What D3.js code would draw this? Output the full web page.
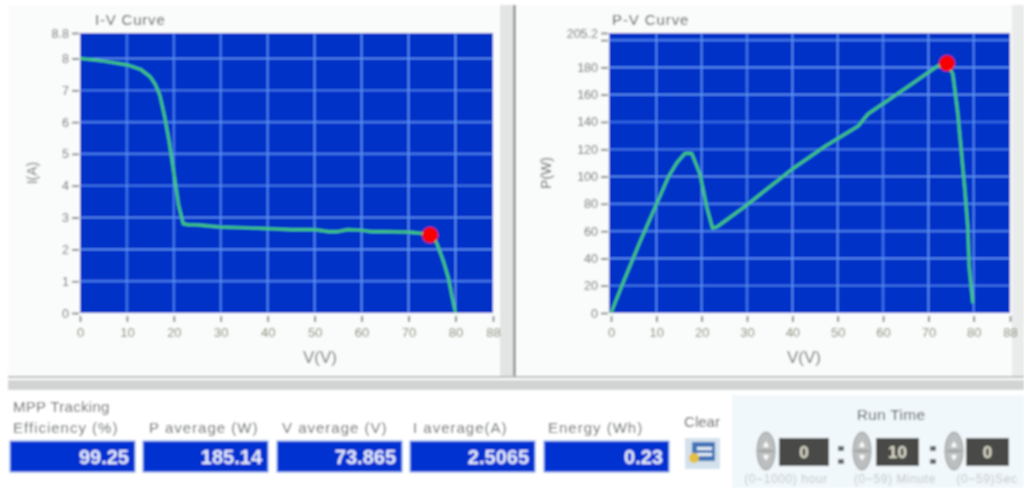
<!DOCTYPE html>
<html>
<head>
<meta charset="utf-8">
<script src="https://cdn.jsdelivr.net/npm/d3@7"></script>
<style>
  html, body { margin: 0; padding: 0; background: #fff; }
  svg { display: block; }
  text { font-family: "Liberation Sans", sans-serif; }
</style>
</head>
<body>
<svg id="chart" width="1024" height="488"></svg>
<script>
// I-V curve
const ivVolts = [0, 5, 10, 13, 15, 16, 17, 18, 19, 20, 21, 22, 23, 25, 30, 35, 40, 45, 50, 53, 55, 57, 60, 62, 65, 70, 74.6, 75.5, 76, 77.5, 78.5, 79.3, 80]
const ivAmps = [8.0, 7.92, 7.8, 7.65, 7.42, 7.2, 6.85, 6.2, 5.4, 4.4, 3.4, 2.8, 2.78, 2.77, 2.7, 2.68, 2.65, 2.62, 2.62, 2.56, 2.56, 2.62, 2.6, 2.56, 2.56, 2.54, 2.48, 2.35, 2.2, 1.6, 1.1, 0.5, 0]
const ivMpp = [74.6, 2.45]
const ivTicks = [0, 1, 2, 3, 4, 5, 6, 7, 8, 8.8]

// P-V curve
const pvVolts = [0, 3, 6.5, 9.8, 12.7, 14.5, 16.3, 17.8, 19.6, 21.1, 22.4, 23.3, 29.5, 39.8, 47.1, 54.5, 56.7, 64.7, 72, 74.1, 75.4, 76.5, 78, 78.7, 79, 79.8]
const pvWatts = [0, 25, 53, 78, 100, 110, 117, 117, 102, 78, 62, 63, 78, 105, 122, 137, 146, 164, 181, 183, 175, 146, 92, 63, 34, 7]
const pvMpp = [74.1, 183]
const pvTicks = [0, 20, 40, 60, 80, 100, 120, 140, 160, 180, 200, 205.2]

const voltTicks = [0, 10, 20, 30, 40, 50, 60, 70, 80, 88]

// readouts
const readoutLabels = ['Efficiency (%)', 'P average  (W)', 'V average (V)', 'I average(A)', 'Energy  (Wh)']
const readoutValues = ['99.25', '185.14', '73.865', '2.5065', '0.23']
const readoutLeft = [10, 143, 277, 410, 544]
const readoutLabelLeft = [13, 149, 282, 413, 548]

// run time
const runValues = ['0', '10', '0']
const runCaptions = ['(0~1000) hour', '(0~59) Minute', '(0~59)Sec']

const svg = d3.select('#chart')
const defs = svg.append('defs')
defs.append('filter').attr('id', 'soft')
  .attr('x', '-2%').attr('y', '-2%').attr('width', '104%').attr('height', '104%')
  .append('feGaussianBlur').attr('stdDeviation', 0.8)

const root = svg.append('g').attr('filter', 'url(#soft)')

root.append('rect').attr('width', 1024).attr('height', 488).attr('fill', '#ffffff')
// panels + splitters
root.append('rect').attr('x', 8).attr('y', 5).attr('width', 492).attr('height', 371).attr('fill', '#fafcfb')
root.append('rect').attr('x', 517).attr('y', 5).attr('width', 495).attr('height', 371).attr('fill', '#fafcfb')
root.append('rect').attr('x', 500).attr('y', 5).attr('width', 13).attr('height', 373).attr('fill', '#e2e5e4')
root.append('rect').attr('x', 513).attr('y', 5).attr('width', 3).attr('height', 373).attr('fill', '#979c9a')
root.append('rect').attr('x', 1012).attr('y', 5).attr('width', 12).attr('height', 373).attr('fill', '#e9ecea')
root.append('rect').attr('x', 8).attr('y', 380).attr('width', 1016).attr('height', 10).attr('fill', '#d2d4d3')
root.append('rect').attr('x', 8).attr('y', 376).attr('width', 1016).attr('height', 2).attr('fill', '#b8bcba')

function drawPlot(opts) {
  const { left, zeroX, right, top, bottom, yMax, yTicks, labeled, volts, vals, mpp } = opts
  const x = d3.scaleLinear().domain([0, 88]).range([zeroX, right])
  const y = d3.scaleLinear().domain([0, yMax]).range([bottom, top])

  root.append('rect').attr('x', left).attr('y', top)
    .attr('width', right - left).attr('height', bottom - top).attr('fill', '#0032c8')

  root.append('g').selectAll('line').data(voltTicks.filter(d => d > 0 && d < 88)).join('line')
    .attr('x1', d => x(d)).attr('x2', d => x(d)).attr('y1', top).attr('y2', bottom)
    .attr('stroke', '#6ba8ff').attr('stroke-width', 1.15)
  root.append('g').selectAll('line').data(yTicks.filter(d => d > 0 && d < yMax)).join('line')
    .attr('x1', left).attr('x2', right).attr('y1', d => y(d)).attr('y2', d => y(d))
    .attr('stroke', '#6ba8ff').attr('stroke-width', 1.15)

  const xAxis = root.append('g').attr('transform', `translate(0,${bottom + 3})`)
    .call(d3.axisBottom(x).tickValues(voltTicks).tickSize(6).tickPadding(6))
  xAxis.select('.domain').remove()
  xAxis.selectAll('line').attr('stroke', '#444').attr('stroke-width', 1.4)
  xAxis.selectAll('text').attr('font-size', 13).attr('fill', '#83866f')

  const yAxis = root.append('g').attr('transform', `translate(${left - 1},0)`)
    .call(d3.axisLeft(y).tickValues(yTicks).tickSize(7).tickPadding(3)
      .tickFormat(d => labeled.includes(d) ? d : ''))
  yAxis.select('.domain').remove()
  yAxis.selectAll('line').attr('stroke', '#444').attr('stroke-width', 1.4)
  yAxis.selectAll('text').attr('font-size', 12.5).attr('fill', '#6a6c6c')

  const line = d3.line().x((d, i) => x(volts[i])).y((d, i) => y(vals[i]))
  root.append('path').attr('d', line(vals)).attr('fill', 'none')
    .attr('stroke', '#44d070').attr('stroke-width', 2.7).attr('stroke-linejoin', 'round')

  root.append('circle').attr('cx', x(mpp[0])).attr('cy', y(mpp[1])).attr('r', 8).attr('fill', '#f80006')
}

drawPlot({
  left: 80, zeroX: 80, right: 493, top: 33, bottom: 313, yMax: 8.8,
  yTicks: ivTicks, labeled: ivTicks, volts: ivVolts, vals: ivAmps, mpp: ivMpp
})
drawPlot({
  left: 609, zeroX: 611, right: 1010, top: 33, bottom: 313, yMax: 205.2,
  yTicks: pvTicks, labeled: pvTicks.filter(d => d !== 200), volts: pvVolts, vals: pvWatts, mpp: pvMpp
})

function label(txt, px, py, size, fill, anchor, spacing) {
  return root.append('text').attr('x', px).attr('y', py).attr('font-size', size)
    .attr('fill', fill).attr('text-anchor', anchor || 'start')
    .attr('letter-spacing', spacing || 0).text(txt)
}

label('I-V Curve', 95, 25, 15, '#4f5254', 'start', 0.8)
label('P-V Curve', 612, 25, 15, '#4f5254', 'start', 0.9)
label('V(V)', 320, 363, 17, '#6e7071', 'middle')
label('V(V)', 804, 363, 17, '#6e7071', 'middle')
label('I(A)', 0, 0, 14, '#6e7071', 'middle').attr('transform', 'translate(37,173) rotate(-90)')
label('P(W)', 0, 0, 14, '#585b5c', 'middle').attr('transform', 'translate(551,173) rotate(-90)')

// readouts
label('MPP Tracking', 13, 412, 15, '#626565', 'start', 0.3)
readoutLabels.forEach((txt, i) => {
  label(txt, readoutLabelLeft[i], 433, 15, '#626565', 'start', 1)
  root.append('rect').attr('x', readoutLeft[i]).attr('y', 441).attr('width', 125).attr('height', 31)
    .attr('fill', '#0032d2').attr('stroke', '#6f9fe8').attr('stroke-width', 1)
  label(readoutValues[i], readoutLeft[i] + 119, 464, 20, '#e8eefc', 'end').attr('font-weight', 'bold')
})

// clear button
label('Clear', 702, 427, 15, '#525557', 'middle')
root.append('rect').attr('x', 685).attr('y', 438).attr('width', 35).attr('height', 31).attr('fill', '#d3e1ec')
root.append('rect').attr('x', 692).attr('y', 442).attr('width', 23).attr('height', 19).attr('fill', '#3f74b8')
root.append('rect').attr('x', 697).attr('y', 447).attr('width', 15).attr('height', 3).attr('fill', '#e6eef6')
root.append('rect').attr('x', 697).attr('y', 453).attr('width', 15).attr('height', 3).attr('fill', '#e6eef6')
root.append('circle').attr('cx', 694).attr('cy', 458).attr('r', 5).attr('fill', '#e5c040')

// run time panel
root.append('rect').attr('x', 732).attr('y', 395).attr('width', 292).attr('height', 93).attr('fill', '#f1f8fb')
label('Run Time', 891, 420, 15.5, '#525557', 'middle', 0.3)

const runBoxLeft = [779, 876, 966]
const runBoxWidth = [50, 43, 43]
const spinnerX = [766, 862, 954]
const captionX = [786, 895, 987]
const colonX = [841, 933]

runValues.forEach((v, i) => {
  root.append('ellipse').attr('cx', spinnerX[i]).attr('cy', 451).attr('rx', 9).attr('ry', 19)
    .attr('fill', '#bcbfbf').attr('stroke', '#8f9292')
  root.append('line').attr('x1', spinnerX[i] - 7).attr('x2', spinnerX[i] + 7).attr('y1', 451).attr('y2', 451)
    .attr('stroke', '#7f8282').attr('stroke-width', 1)
  root.append('path').attr('d', d3.line()([[spinnerX[i], 441], [spinnerX[i] - 3, 447], [spinnerX[i] + 3, 447]]) + 'Z').attr('fill', '#ffffff')
  root.append('path').attr('d', d3.line()([[spinnerX[i], 461], [spinnerX[i] - 3, 455], [spinnerX[i] + 3, 455]]) + 'Z').attr('fill', '#ffffff')
  root.append('rect').attr('x', runBoxLeft[i]).attr('y', 438).attr('width', runBoxWidth[i]).attr('height', 28).attr('fill', '#484846')
  label(v, runBoxLeft[i] + runBoxWidth[i] / 2, 458, 17, '#e0decf', 'middle').attr('font-weight', 'bold')
  label(runCaptions[i], captionX[i], 483, 12, '#c2c6c8', 'middle', 0.6)
})
colonX.forEach(cx => {
  root.append('rect').attr('x', cx - 3).attr('y', 446).attr('width', 6).attr('height', 5).attr('fill', '#666')
  root.append('rect').attr('x', cx - 3).attr('y', 459).attr('width', 6).attr('height', 5).attr('fill', '#666')
})
</script>
</body>
</html>
